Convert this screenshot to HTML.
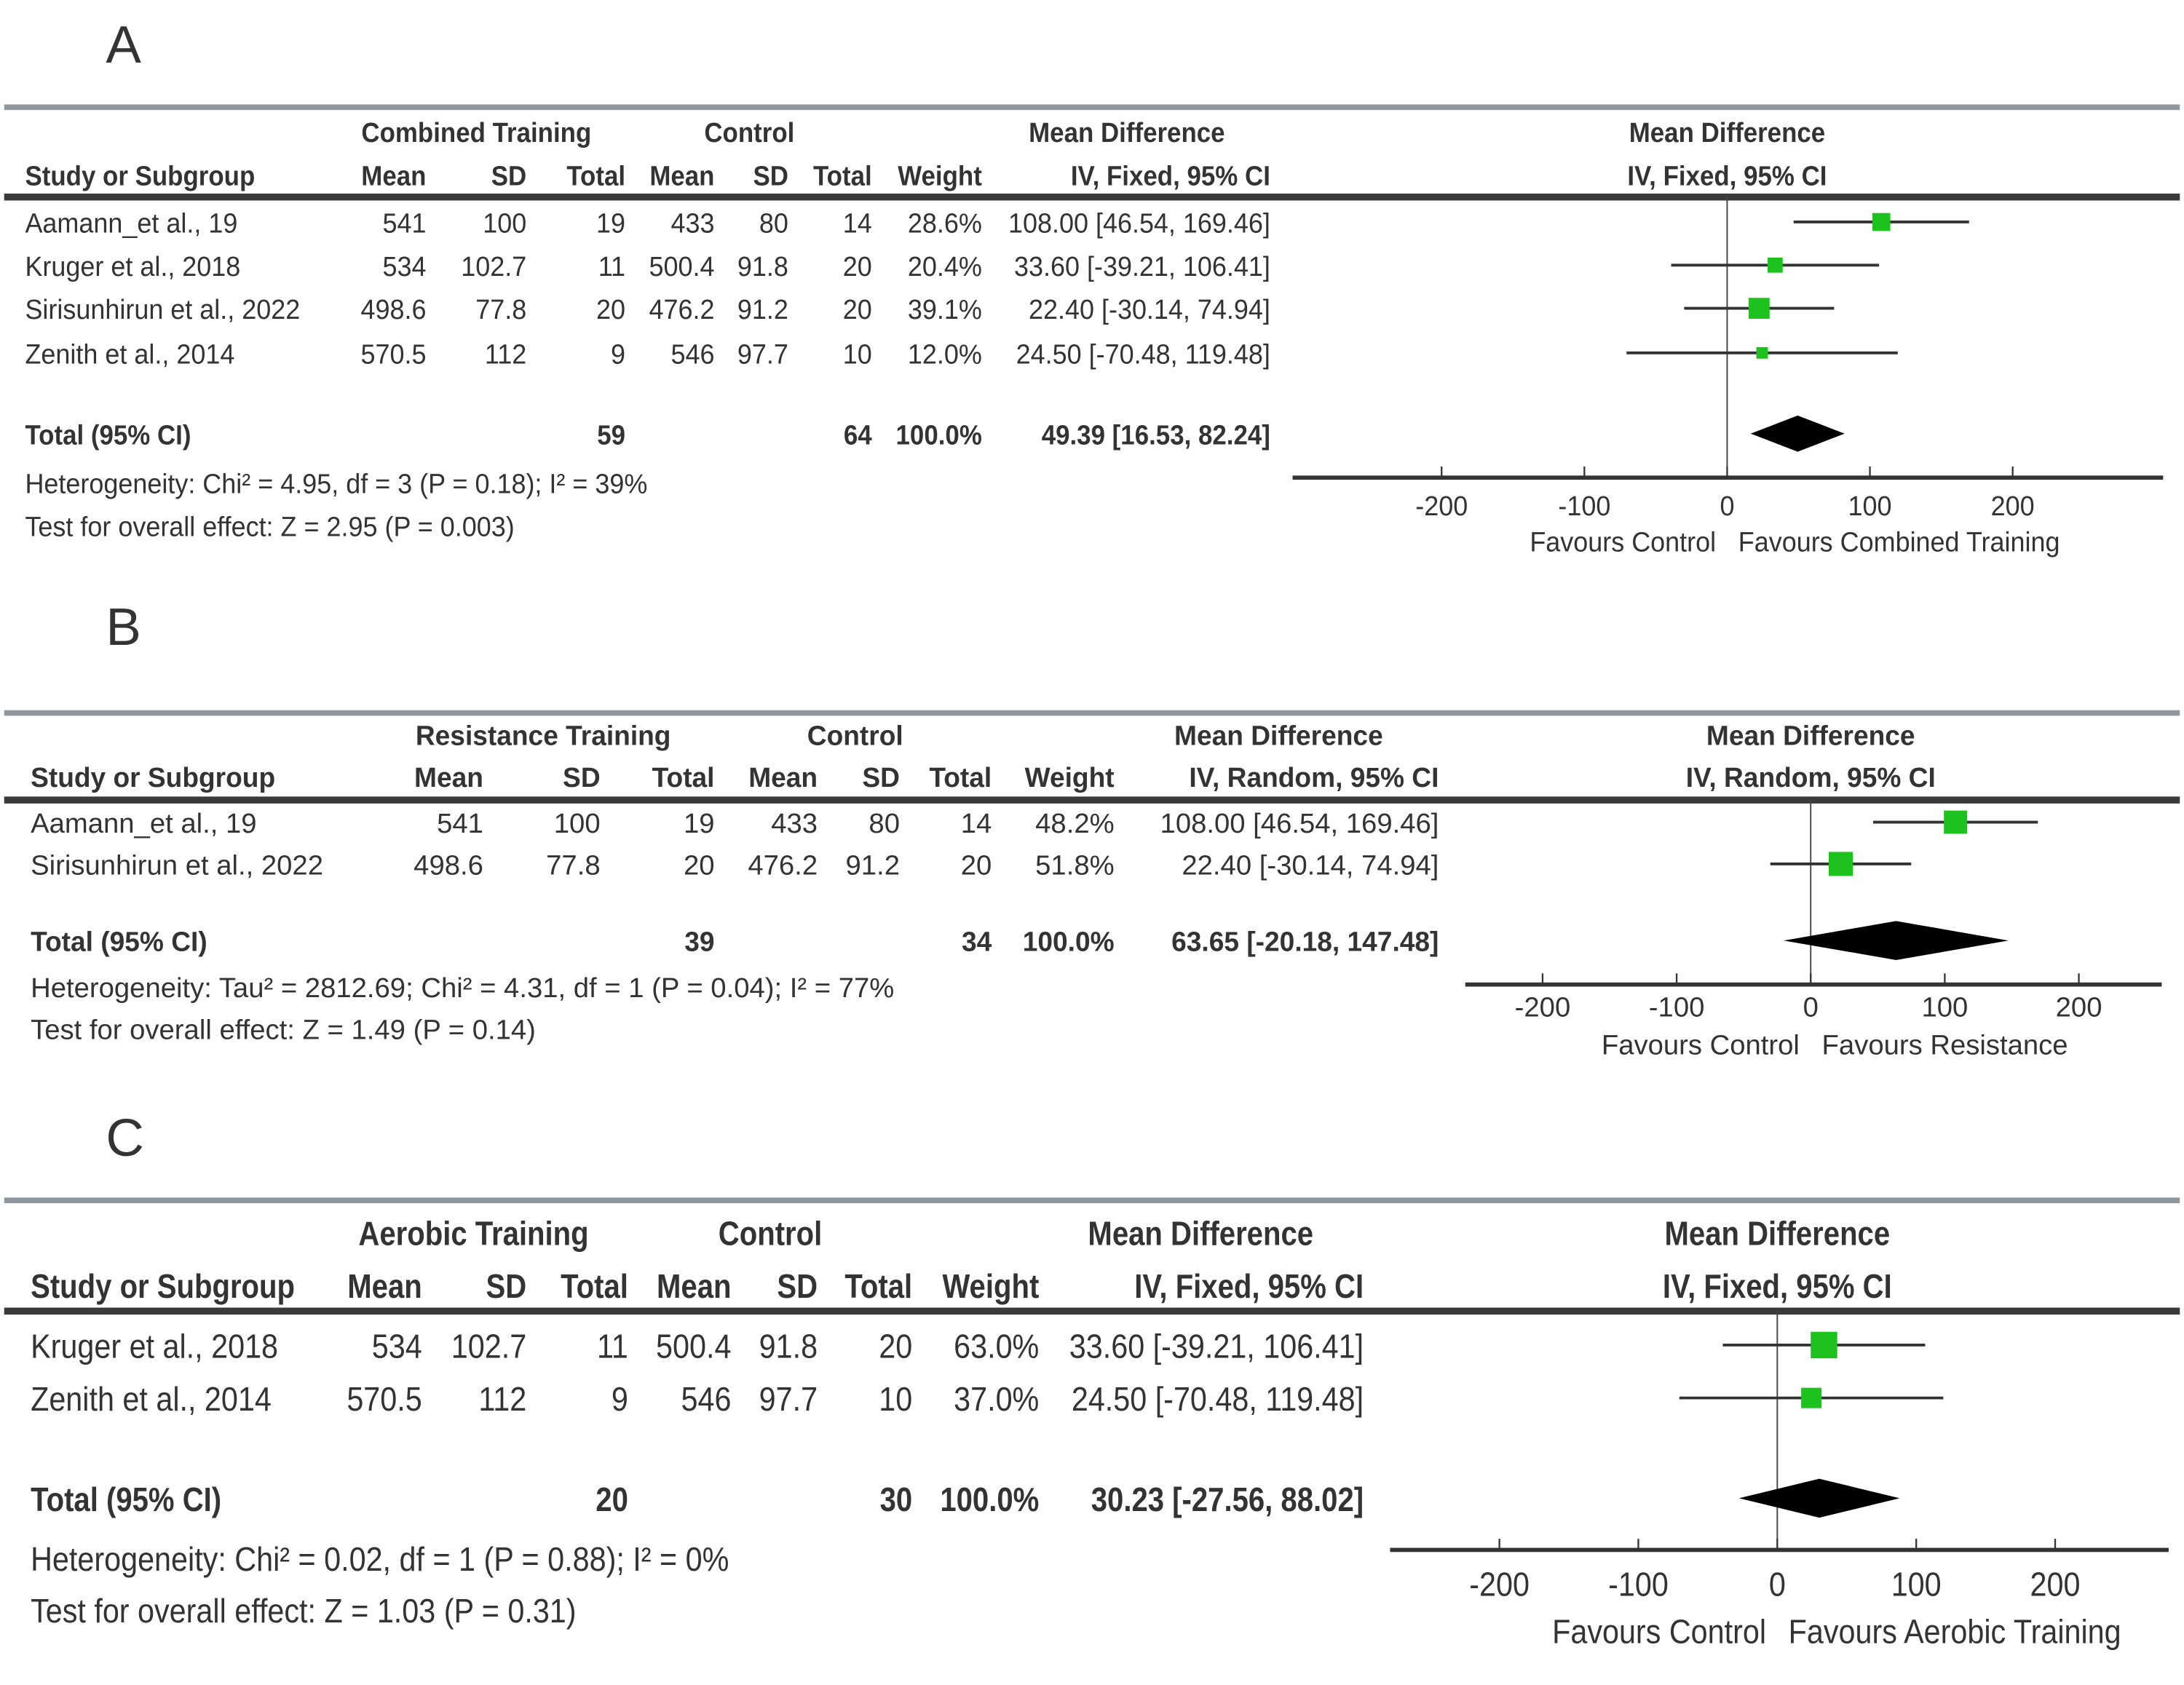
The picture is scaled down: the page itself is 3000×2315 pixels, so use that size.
<!DOCTYPE html>
<html><head><meta charset="utf-8"><style>
html,body{margin:0;padding:0;background:#fff;}
svg{display:block;}
text{font-family:"Liberation Sans Narrow","Liberation Sans",sans-serif;fill:#333;}
</style></head><body>
<svg id="fig" width="3000" height="2315" viewBox="0 0 1568 1210" preserveAspectRatio="none" xmlns="http://www.w3.org/2000/svg">
<rect x="0" y="0" width="1568" height="1210" fill="#fff"/>
</svg>
<script>
// ---- Panel A data ----
const studiesA = ["Aamann_et al., 19","Kruger et al., 2018","Sirisunhirun et al., 2022","Zenith et al., 2014"];
const expMeanA = ["541","534","498.6","570.5"];
const expSdA = ["100","102.7","77.8","112"];
const expNA = ["19","11","20","9"];
const ctlMeanA = ["433","500.4","476.2","546"];
const ctlSdA = ["80","91.8","91.2","97.7"];
const ctlNA = ["14","20","20","10"];
const weightA = [28.6,20.4,39.1,12.0];
const mdA = [108.00,33.60,22.40,24.50];
const loA = [46.54,-39.21,-30.14,-70.48];
const hiA = [169.46,106.41,74.94,119.48];
const totalA = [49.39,16.53,82.24];
const totalsNA = ["59","64"];
const ticksA = [-200,-100,0,100,200];
// ---- Panel B data ----
const studiesB = ["Aamann_et al., 19","Sirisunhirun et al., 2022"];
const expMeanB = ["541","498.6"];
const expSdB = ["100","77.8"];
const expNB = ["19","20"];
const ctlMeanB = ["433","476.2"];
const ctlSdB = ["80","91.2"];
const ctlNB = ["14","20"];
const weightB = [48.2,51.8];
const mdB = [108.00,22.40];
const loB = [46.54,-30.14];
const hiB = [169.46,74.94];
const totalB = [63.65,-20.18,147.48];
const totalsNB = ["39","34"];
const ticksB = [-200,-100,0,100,200];
// ---- Panel C data ----
const studiesC = ["Kruger et al., 2018","Zenith et al., 2014"];
const expMeanC = ["534","570.5"];
const expSdC = ["102.7","112"];
const expNC = ["11","9"];
const ctlMeanC = ["500.4","546"];
const ctlSdC = ["91.8","97.7"];
const ctlNC = ["20","10"];
const weightC = [63.0,37.0];
const mdC = [33.60,24.50];
const loC = [-39.21,-70.48];
const hiC = [106.41,119.48];
const totalC = [30.23,-27.56,88.02];
const totalsNC = ["20","30"];
const ticksC = [-200,-100,0,100,200];

const NS="http://www.w3.org/2000/svg";
const svg=document.getElementById('fig');
let SX=0.94;
function mk(tag,attrs,parent){const e=document.createElementNS(NS,tag);for(const k in attrs)e.setAttribute(k,attrs[k]);(parent||svg).appendChild(e);return e;}
function txt(g,x,y,s,size,anchor,weight){const sc=weight==='bold'?SX*0.97:SX;const t=mk('text',{x:0,y:0,transform:`translate(${x},${y}) scale(${sc},1)`,'font-size':size,'text-anchor':anchor||'start','font-weight':weight||'normal'},g);t.textContent=s;return t;}
function f2(v){return v.toFixed(2);}

function panel(P){
  SX=P.sx;
  const g=mk('g',{});
  
  
  const fs=P.fs;
  const lab=mk('text',{x:76,y:P.labelY,'font-size':38,fill:'#111'},g);
  lab.textContent=P.id;
  
  
  const tl=mk('rect',{x:3,y:P.topY-2,width:1562,height:4,fill:'#8f969c'},g);
  
  
  const sl=mk('rect',{x:3,y:P.sepY-2,width:1562,height:5,fill:'#3a3a3a'},g);
  
  
  const c=P.cols;
  const hg=mk('g',{},g);
  
  
  const hw='bold';
  txt(hg,P.h1[0],P.h1y,P.expName,fs,'middle',hw);
  txt(hg,P.h1[1],P.h1y,'Control',fs,'middle',hw);
  txt(hg,P.h1[2],P.h1y,'Mean Difference',fs,'middle',hw);
  txt(hg,P.zeroX,P.h1y,'Mean Difference',fs,'middle',hw);
  txt(hg,c.study,P.h2y,'Study or Subgroup',fs,'start',hw);
  const hn=['Mean','SD','Total','Mean','SD','Total','Weight'];
  const hx=[c.m1,c.s1,c.n1,c.m2,c.s2,c.n2,c.w];
  for(let i=0;i<hn.length;i++)txt(hg,hx[i],P.h2y,hn[i],fs,'end',hw);
  txt(hg,c.ci,P.h2y,P.method,fs,'end',hw);
  txt(hg,P.zeroX,P.h2y,P.method,fs,'middle',hw);
  const sx=v=>P.zeroX+v*P.ppu;
  const zl=mk('line',{x1:P.zeroX,y1:P.sepY,x2:P.zeroX,y2:P.axisY,stroke:'#444','stroke-width':1},g);
  
  
  for(let i=0;i<P.studies.length;i++){
    const y=P.rowY[i];
    const rg=mk('g',{},g);
    
    
    txt(rg,c.study,y,P.studies[i],fs,'start');
    const vals=[P.em[i],P.es[i],P.en[i],P.cm[i],P.cs[i],P.cn[i],P.w[i].toFixed(1)+'%'];
    for(let k=0;k<vals.length;k++)txt(rg,hx[k],y,vals[k],fs,'end');
    txt(rg,c.ci,y,f2(P.md[i])+' ['+f2(P.lo[i])+', '+f2(P.hi[i])+']',fs,'end');
    const cy=y-fs*0.38;
    const ln=mk('line',{x1:sx(P.lo[i]),y1:cy,x2:sx(P.hi[i]),y2:cy,stroke:'#333','stroke-width':2},g);
    
    
    const sz=2.4*Math.sqrt(P.w[i]);
    const sq=mk('rect',{x:sx(P.md[i])-sz/2,y:cy-sz/2,width:sz,height:sz,fill:'#1ec21e'},g);
    
    
  }
  const ty=P.totY;
  const tg=mk('g',{},g);
  
  
  txt(tg,c.study,ty,'Total (95% CI)',fs,'start',hw);
  txt(tg,c.n1,ty,P.tn[0],fs,'end',hw);
  txt(tg,c.n2,ty,P.tn[1],fs,'end',hw);
  txt(tg,c.w,ty,'100.0%',fs,'end',hw);
  txt(tg,c.ci,ty,f2(P.tot[0])+' ['+f2(P.tot[1])+', '+f2(P.tot[2])+']',fs,'end',hw);
  const dy=ty-fs*0.38, dh=P.dh;
  const dm=mk('polygon',{points:`${sx(P.tot[1])},${dy} ${sx(P.tot[0])},${dy-dh/2} ${sx(P.tot[2])},${dy} ${sx(P.tot[0])},${dy+dh/2}`,fill:'#000'},g);
  
  
  const het=txt(g,c.study,P.hetY,P.het,fs,'start');
  
  
  const ov=txt(g,c.study,P.testY,P.test,fs,'start');
  
  
  const ax=mk('rect',{x:P.axX[0],y:P.axisY-1.5,width:P.axX[1]-P.axX[0],height:3,fill:'#333'},g);
  
  
  for(const t of P.ticks){
    const tk=mk('line',{x1:sx(t),y1:P.axisY-8,x2:sx(t),y2:P.axisY,stroke:'#333','stroke-width':1.2},g);
    
    
    const tl2=txt(g,sx(t),P.tickY,String(t),fs,'middle');
    
    
  }
  const fl=txt(g,P.zeroX-8,P.favY,'Favours Control',fs,'end');
  
  
  const fr=txt(g,P.zeroX+8,P.favY,P.favR,fs,'start');
  
  
}

panel({id:'A',sx:0.94,fs:20,labelY:45,topY:77,sepY:141,h1y:102,h2y:133,expName:'Combined Training',h1:[342,538,809],
 method:'IV, Fixed, 95% CI',cols:{study:18,m1:306,s1:378,n1:449,m2:513,s2:566,n2:626,w:705,ci:912},
 zeroX:1240,ppu:1.025,axisY:343,axX:[928,1553],tickY:370,favY:396,favR:'Favours Combined Training',
 studies:studiesA,em:expMeanA,es:expSdA,en:expNA,cm:ctlMeanA,cs:ctlSdA,cn:ctlNA,w:weightA,md:mdA,lo:loA,hi:hiA,
 rowY:[167,198,229,261],totY:319,tot:totalA,tn:totalsNA,dh:26,hetY:354,testY:385,ticks:ticksA,
 het:'Heterogeneity: Chi² = 4.95, df = 3 (P = 0.18); I² = 39%',test:'Test for overall effect: Z = 2.95 (P = 0.003)'});
panel({id:'B',sx:1.0,fs:20,labelY:463,topY:512,sepY:574,h1y:535,h2y:565,expName:'Resistance Training',h1:[390,614,918],
 method:'IV, Random, 95% CI',cols:{study:22,m1:347,s1:431,n1:513,m2:587,s2:646,n2:712,w:800,ci:1033},
 zeroX:1300,ppu:0.9625,axisY:707,axX:[1052,1552],tickY:730,favY:757,favR:'Favours Resistance',
 studies:studiesB,em:expMeanB,es:expSdB,en:expNB,cm:ctlMeanB,cs:ctlSdB,cn:ctlNB,w:weightB,md:mdB,lo:loB,hi:hiB,
 rowY:[598,628],totY:683,tot:totalB,tn:totalsNB,dh:28,hetY:716,testY:746,ticks:ticksB,
 het:'Heterogeneity: Tau² = 2812.69; Chi² = 4.31, df = 1 (P = 0.04); I² = 77%',test:'Test for overall effect: Z = 1.49 (P = 0.14)'});
panel({id:'C',sx:0.9,fs:24,labelY:830,topY:862,sepY:941,h1y:894,h2y:932,expName:'Aerobic Training',h1:[340,553,862],
 method:'IV, Fixed, 95% CI',cols:{study:22,m1:303,s1:378,n1:451,m2:525,s2:587,n2:655,w:746,ci:979},
 zeroX:1276,ppu:0.9975,axisY:1113,axX:[998,1557],tickY:1146,favY:1180,favR:'Favours Aerobic Training',
 studies:studiesC,em:expMeanC,es:expSdC,en:expNC,cm:ctlMeanC,cs:ctlSdC,cn:ctlNC,w:weightC,md:mdC,lo:loC,hi:hiC,
 rowY:[975,1013],totY:1085,tot:totalC,tn:totalsNC,dh:28,hetY:1128,testY:1165,ticks:ticksC,
 het:'Heterogeneity: Chi² = 0.02, df = 1 (P = 0.88); I² = 0%',test:'Test for overall effect: Z = 1.03 (P = 0.31)'});
</script>
</body></html>
